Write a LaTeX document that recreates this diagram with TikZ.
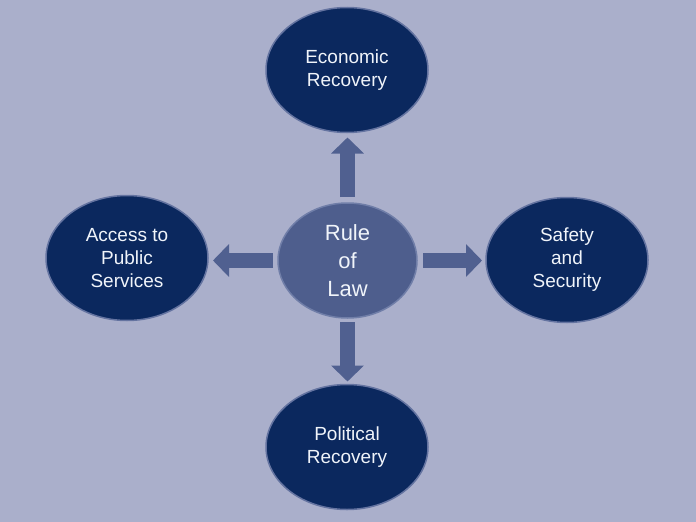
\documentclass[tikz,border=0pt]{standalone}
\usepackage{fontspec}
\setmainfont{Liberation Sans}
\usetikzlibrary{shapes.geometric,arrows.meta}
\definecolor{bgcol}{RGB}{170,175,203}
\definecolor{navy}{RGB}{11,40,94}
\definecolor{navyedge}{RGB}{100,115,160}
\definecolor{midblue}{RGB}{78,94,141}
\definecolor{midedge}{RGB}{112,126,168}
\definecolor{arrowcol}{RGB}{80,96,144}
\definecolor{txtcol}{RGB}{240,244,250}
\tikzset{
  outerell/.style={ellipse, fill=navy, draw=navyedge, line width=1.5pt,
    minimum width=162pt, minimum height=125pt, inner sep=0pt, outer sep=0pt,
    text=txtcol, align=center, font=\fontsize{19}{23}\selectfont},
  centerell/.style={ellipse, fill=midblue, draw=midedge, line width=1.5pt,
    minimum width=139pt, minimum height=115pt, inner sep=0pt, outer sep=0pt,
    text=txtcol, align=center, font=\fontsize{22}{28}\selectfont},
  blockarrow/.style={draw=arrowcol, line width=15pt,
    -{Triangle[width=32pt,length=16pt]}}
}
\begin{document}
\begin{tikzpicture}[x=1pt,y=-1pt]
\fill[bgcol] (0,0) rectangle (696,522);
\useasboundingbox (0,0) rectangle (696,522);
\node[centerell] (rule) at (347.5,260.5) {Rule\\of\\Law};
\node[outerell] (econ) at (347,70) {Economic\\Recovery};
\node[outerell] (pol) at (347,447) {Political\\Recovery};
\node[outerell] (acc) at (127,258) {Access to\\Public\\Services};
\node[outerell] (safe) at (567,260) {Safety\\and\\Security};
\draw[blockarrow, shorten <=6pt, shorten >=5pt] (rule.north) -- (rule.north |- econ.south);
\draw[blockarrow, shorten <=4pt, shorten >=3pt] (rule.south) -- (rule.south |- pol.north);
\draw[blockarrow, shorten <=5pt, shorten >=5pt] (rule.west) -- (rule.west -| acc.east);
\draw[blockarrow, shorten <=6pt, shorten >=4pt] (rule.east) -- (rule.east -| safe.west);
\end{tikzpicture}
\end{document}
